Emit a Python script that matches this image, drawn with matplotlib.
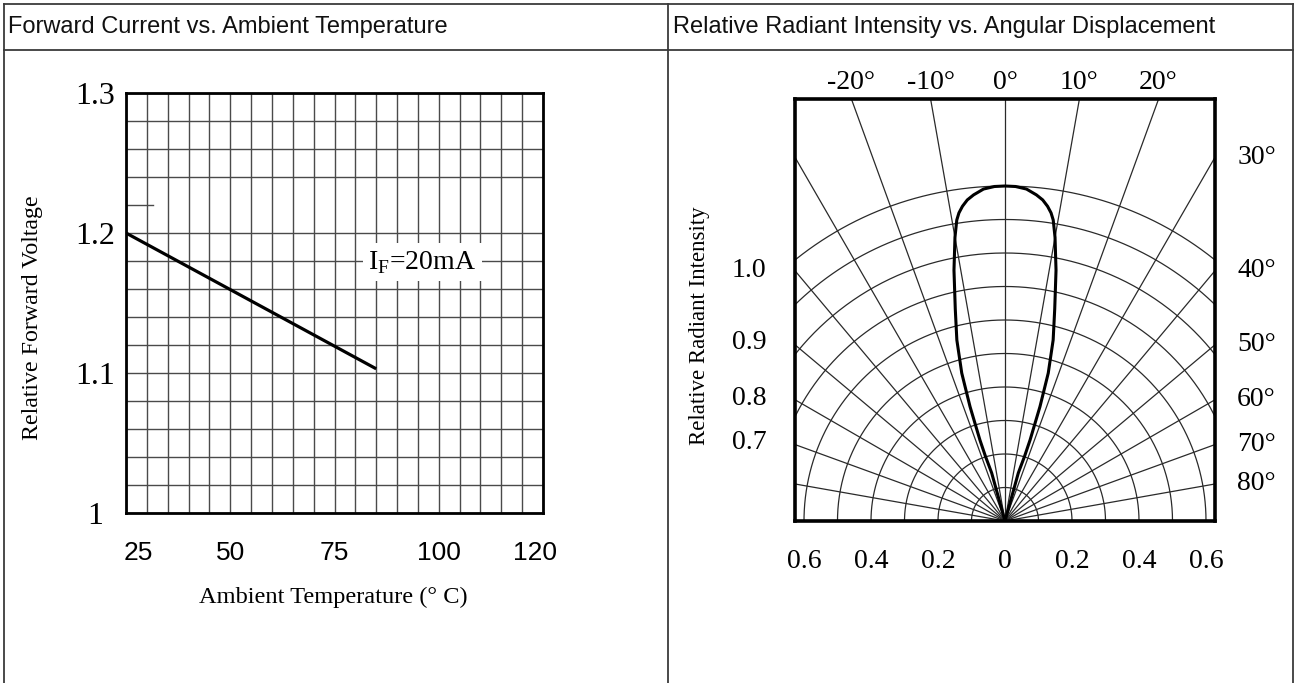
import numpy as np
import matplotlib
matplotlib.use("Agg")
import matplotlib.pyplot as plt
from matplotlib.lines import Line2D

# ---------------- data ----------------
# Left chart: relative forward voltage vs ambient temperature (IF = 20 mA)
temp_c = [25, 85]
rel_vf = [1.200, 1.103]
temp_tick_labels = ["25", "50", "75", "100", "120"]
temp_tick_pos = [28, 50, 75, 100, 123]
vf_ticks = [1.0, 1.1, 1.2, 1.3]
vf_tick_labels = ["1", "1.1", "1.2", "1.3"]

# Right chart: relative radiant intensity vs angular displacement (one half, mirrored)
angle_deg = [0, 1.8, 3.7, 5.5, 6.7, 7.7, 8.5, 9.1, 10.0, 11.5, 13.2, 14.9, 16.3, 17.0, 17.2, 16.8, 15.5, 15.0]
intensity = [1.0, 0.999, 0.993, 0.978, 0.965, 0.948, 0.93, 0.91, 0.86, 0.764, 0.65, 0.559, 0.46, 0.357, 0.253, 0.20, 0.149, 0.0]
top_angle_labels = [-20, -10, 0, 10, 20]
side_angle_labels = [30, 40, 50, 60, 70, 80]
left_int_labels = ["1.0", "0.9", "0.8", "0.7"]
left_int_label_y = [0.749, 0.534, 0.367, 0.233]
bottom_ticks = [-0.6, -0.4, -0.2, 0, 0.2, 0.4, 0.6]
bottom_tick_labels = ["0.6", "0.4", "0.2", "0", "0.2", "0.4", "0.6"]

SERIF = "Liberation Serif"
SANS = "Liberation Sans"

W, H = 1298, 683
fig = plt.figure(figsize=(W / 100, H / 100), dpi=100)
fig.patch.set_facecolor("white")


def fx(px):
    return px / W


def fy(py):
    return 1 - py / H


# ---------------- table frame ----------------
frame_col = "#3a3a3a"
for (x0, y0, x1, y1) in [(4, 4, 1293, 4), (4, 50, 1293, 50), (4, 4, 4, 683),
                         (668, 4, 668, 683), (1293, 4, 1293, 683)]:
    fig.add_artist(Line2D([fx(x0), fx(x1)], [fy(y0), fy(y1)], color=frame_col, lw=1.3))

fig.text(fx(8), fy(27), "Forward Current vs. Ambient Temperature", family=SANS,
         fontsize=17, va="center", ha="left", color="#111")
fig.text(fx(673), fy(27), "Relative Radiant Intensity vs. Angular Displacement", family=SANS,
         fontsize=17, va="center", ha="left", color="#111")

# ---------------- left chart ----------------
ax1 = fig.add_axes([fx(126), fy(513), fx(543) - fx(126), fy(93) - fy(513)])
ax1.set_xlim(25, 125)
ax1.set_ylim(1.0, 1.3)
grid_col = "#4a4a4a"
for xv in np.arange(25, 126, 5):
    ax1.axvline(xv, color=grid_col, lw=1.0, zorder=1)
for yv in np.round(np.arange(1.0, 1.3001, 0.02), 2):
    if abs(yv - 1.22) < 1e-6:
        ax1.plot([25, 31.5], [yv, yv], color=grid_col, lw=1.0, zorder=1)
    else:
        ax1.axhline(yv, color=grid_col, lw=1.0, zorder=1)
ax1.plot(temp_c, rel_vf, color="black", lw=2.3, zorder=3, solid_capstyle="butt")
ax1.text(96, 1.179, "I$_{\\mathregular{F}}$=20mA", family=SERIF, fontsize=20,
         ha="center", va="center", zorder=4,
         bbox=dict(facecolor="white", edgecolor="none", pad=4))
for s in ax1.spines.values():
    s.set_linewidth(2.0)
    s.set_color("black")
ax1.set_xticks(temp_tick_pos)
ax1.set_xticklabels(temp_tick_labels, family=SANS, fontsize=19)
ax1.set_yticks(vf_ticks)
ax1.set_yticklabels(vf_tick_labels, family=SERIF, fontsize=23, ha="center")
ax1.tick_params(axis="x", length=0, pad=20)
ax1.tick_params(axis="y", length=0, pad=22)
fig.text(fx(33), fy(318), "Relative Forward Voltage", family=SERIF, fontsize=17.2,
         rotation=90, ha="center", va="center")
fig.text(fx(333), fy(597), "Ambient Temperature (° C)", family=SERIF, fontsize=17.6,
         ha="center", va="center")

# ---------------- right chart ----------------
XMAX = 210 / 335
YMAX = 422 / 335
ax2 = fig.add_axes([fx(795), fy(521), fx(1215) - fx(795), fy(99) - fy(521)])
ax2.set_xlim(-XMAX, XMAX)
ax2.set_ylim(0, YMAX)
ring_col = "#2a2a2a"
t = np.linspace(0, np.pi, 400)
for r in np.arange(0.1, 1.001, 0.1):
    ax2.plot(r * np.cos(t), r * np.sin(t), color=ring_col, lw=0.9, zorder=1)
for a in range(-80, 81, 10):
    th = np.radians(a)
    L = 3.0
    ax2.plot([0, L * np.sin(th)], [0, L * np.cos(th)], color=ring_col, lw=0.9, zorder=1)

ang = np.radians(np.array(angle_deg))
inten = np.array(intensity)
full_ang = np.concatenate([-ang[::-1], ang[1:]])
full_int = np.concatenate([inten[::-1], inten[1:]])
ax2.plot(full_int * np.sin(full_ang), full_int * np.cos(full_ang), color="black", lw=2.2,
         zorder=3, solid_joinstyle="round")

for s in ax2.spines.values():
    s.set_linewidth(2.6)
    s.set_color("black")
ax2.set_xticks(bottom_ticks)
ax2.set_xticklabels(bottom_tick_labels, family=SERIF, fontsize=20)
ax2.tick_params(axis="x", length=0, pad=20)
ax2.set_yticks([])

for a in top_angle_labels:
    ax2.text(YMAX * np.tan(np.radians(a)), YMAX + 0.05, f"{a}°", family=SERIF, fontsize=20,
             ha="center", va="center", clip_on=False)
for a in side_angle_labels:
    ax2.text(XMAX + 0.066, XMAX / np.tan(np.radians(a)), f"{a}°", family=SERIF, fontsize=20,
             ha="left", va="center", clip_on=False)
for lab, yv in zip(left_int_labels, left_int_label_y):
    ax2.text(-XMAX - 0.137, yv, lab, family=SERIF, fontsize=20, ha="center", va="center",
             clip_on=False)
fig.text(fx(700), fy(326), "Relative Radiant Intensity", family=SERIF, fontsize=16.5,
         rotation=90, ha="center", va="center")

fig.savefig("out.png", dpi=100, facecolor="white")
